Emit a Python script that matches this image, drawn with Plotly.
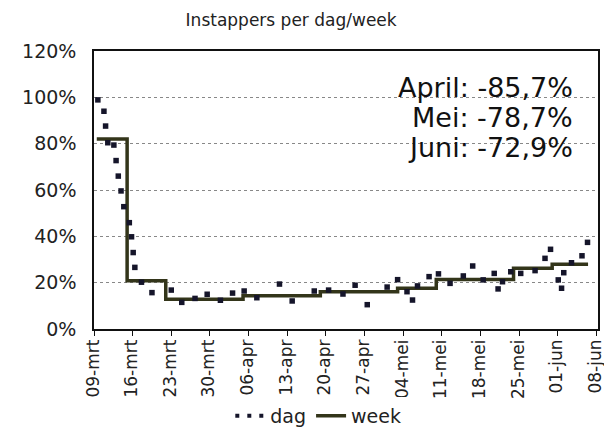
import plotly.graph_objects as go

# days since 09-mrt, values in %
dag_x = [0.7, 1.8, 2.1, 2.5, 3.6, 4.0, 4.4, 4.9, 5.4, 6.4, 6.8, 7.1, 7.4, 8.6, 10.5,
         14.0, 15.9, 18.3, 20.5, 22.9, 25.1, 27.2, 29.5, 33.6, 35.9, 39.9, 42.5, 45.1,
         47.3, 49.5, 53.1, 55.0, 56.7, 57.7, 58.6, 60.7, 62.4, 64.5, 66.9, 68.6, 70.5,
         72.5, 73.2, 74.0, 75.5, 77.3, 79.9, 81.7, 82.7, 84.1, 84.7, 85.1, 86.5, 88.4, 89.4]
dag_y = [98.9, 94.0, 87.6, 80.4, 79.4, 72.7, 66.0, 59.6, 52.8, 45.9, 39.8, 33.0, 26.6, 20.2, 15.7,
         16.8, 11.5, 13.2, 15.0, 12.4, 15.5, 16.4, 13.5, 19.4, 12.1, 16.4, 16.8, 15.1,
         18.9, 10.5, 18.1, 21.3, 16.1, 12.5, 18.6, 22.6, 23.8, 19.7, 22.9, 27.2, 21.2,
         24.0, 17.3, 20.4, 24.7, 24.0, 25.2, 30.5, 34.4, 21.2, 17.6, 24.3, 28.6, 31.6, 37.4]

week_x = [0.5, 6, 13, 20, 27, 34, 41, 48, 55, 62, 69, 76, 83, 89.5]
week_y = [82.0, 20.8, 12.8, 12.8, 14.3, 14.3, 16.1, 16.1, 17.6, 21.4, 21.4, 26.2, 28.0, 28.0]

tick_days = [0, 7, 14, 21, 28, 35, 42, 49, 56, 63, 70, 77, 84, 91]
tick_labels = ["09-mrt", "16-mrt", "23-mrt", "30-mrt", "06-apr", "13-apr", "20-apr",
               "27-apr", "04-mei", "11-mei", "18-mei", "25-mei", "01-jun", "08-jun"]
pct_vals = [0, 20, 40, 60, 80, 100, 120]
pct_labels = ["0%", "20%", "40%", "60%", "80%", "100%", "120%"]

notes = ["April: -85,7%", "Mei: -78,7%", "Juni: -72,9%"]

font = "DejaVu Sans, Verdana, sans-serif"
fig = go.Figure()

fig.add_trace(go.Scatter(x=week_x, y=week_y, mode="lines", line_shape="hv",
                         line=dict(color="#33351a", width=3.5), name="week", showlegend=False))
fig.add_trace(go.Scatter(x=dag_x, y=dag_y, mode="markers", name="dag", showlegend=False,
                         marker=dict(color="#15152a", size=5.5, symbol="square")))
# legend entries
fig.add_trace(go.Scatter(x=[None], y=[None], mode="lines", name="dag",
                         line=dict(color="#15152a", width=4, dash="4px,8px")))
fig.add_trace(go.Scatter(x=[None], y=[None], mode="lines", name="week",
                         line=dict(color="#33351a", width=3.5)))

for i, t in enumerate(notes):
    fig.add_annotation(text=t, xref="paper", yref="paper", x=0.955, y=0.868 - i * 0.108,
                       xanchor="right", yanchor="middle", showarrow=False,
                       font=dict(size=27, color="#111", family=font))

fig.update_layout(
    width=604, height=435,
    margin=dict(l=94, r=6, t=51, b=106),
    paper_bgcolor="white", plot_bgcolor="white",
    font=dict(family=font, size=17, color="#222"),
    title=dict(text="Instappers per dag/week", x=0.482, xref="container", xanchor="center",
               y=0.955, yref="container", yanchor="middle", font=dict(size=17)),
    legend=dict(orientation="h", x=0.527, xref="container", xanchor="center",
                y=0.044, yref="container", yanchor="middle",
                font=dict(size=19), itemwidth=30, tracegroupgap=0),
)
fig.update_xaxes(range=[0, 91.3], tickmode="array", tickvals=tick_days, ticktext=tick_labels,
                 tickangle=-90, ticks="outside", ticklen=5, tickcolor="#111",
                 tickfont=dict(size=17), ticklabelstandoff=-3, ticklabelshift=-1,
                 ticklabeloverflow="allow", automargin=False,
                 showline=True, linecolor="#111", linewidth=1.5, mirror=True,
                 showgrid=False, zeroline=False)
fig.update_yaxes(range=[0, 120], tickmode="array", tickvals=pct_vals, ticktext=pct_labels,
                 tickfont=dict(size=19), automargin=False,
                 showline=True, linecolor="#111", linewidth=1.5, mirror=True,
                 showgrid=True, gridcolor="#888", griddash="dot", gridwidth=1,
                 zeroline=False, ticklabelstandoff=12)

# page body has a default 8px margin; drop it so the chart sits at the window corner
fig.write_html("out.html", config={"displayModeBar": False},
               post_script="document.body.style.margin='0';")
